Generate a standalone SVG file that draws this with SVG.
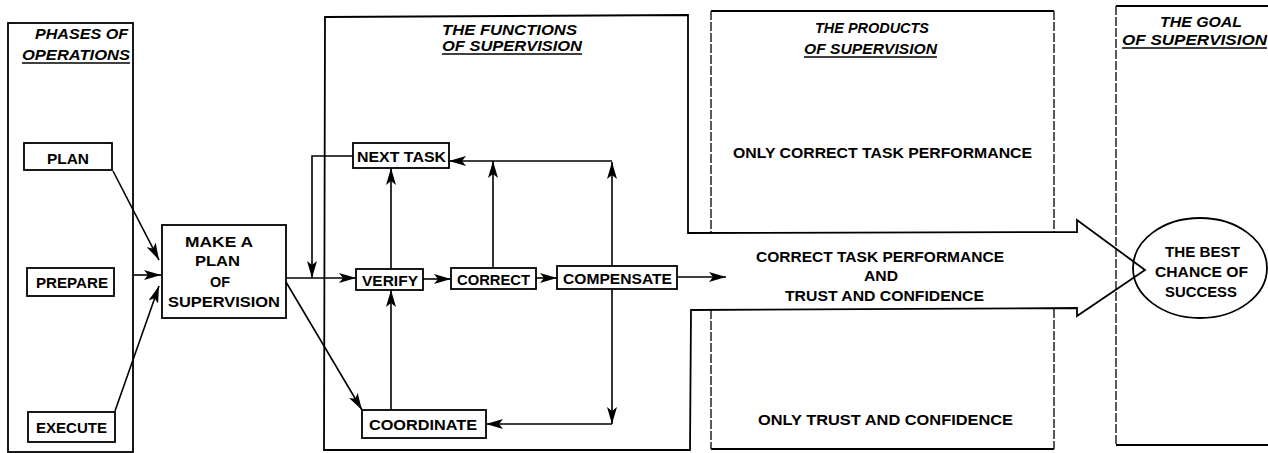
<svg xmlns="http://www.w3.org/2000/svg" width="1268" height="453" viewBox="0 0 1268 453">
<defs>
<style>
.bx{fill:#fff;stroke:#000;stroke-width:1.8}
.pn{fill:none;stroke:#000;stroke-width:1.8}
.ds{fill:none;stroke:#000;stroke-width:1.3;stroke-dasharray:9 2}
.t{font-family:"Liberation Sans",Arial,sans-serif;font-weight:bold;font-size:15px;fill:#000}
.h{font-family:"Liberation Sans",Arial,sans-serif;font-weight:bold;font-style:italic;font-size:14px;fill:#000}
.c{fill:none;stroke:#000;stroke-width:1.6}
.a{fill:none;stroke:#000;stroke-width:1.6;marker-end:url(#ah)}
</style>
<marker id="ah" viewBox="0 0 17 10" refX="17" refY="5" markerWidth="17" markerHeight="10" markerUnits="userSpaceOnUse" orient="auto">
<path d="M0,0 L17,5 L0,10 L4,5 Z" fill="#000"/>
</marker>
</defs>
<rect width="1268" height="453" fill="#fff"/>

<g id="panel-phases">
<rect class="pn" x="8" y="23" width="125" height="429"/>
<text class="h" x="35" y="39" textLength="93" lengthAdjust="spacingAndGlyphs">PHASES OF</text>
<text class="h" x="22" y="60" textLength="108" lengthAdjust="spacingAndGlyphs">OPERATIONS</text>
<line class="c" x1="22" y1="63" x2="130" y2="63"/>
</g>

<g id="panel-functions">
<path class="pn" d="M325,17 L688,15 L688,233 L1077,232 L1077,220 L1145,270 L1077,316 L1077,308 L691,310 L690,450 L324,450 Z"/>
<text class="h" x="442" y="35" textLength="135" lengthAdjust="spacingAndGlyphs">THE FUNCTIONS</text>
<text class="h" x="442" y="51" textLength="140" lengthAdjust="spacingAndGlyphs">OF SUPERVISION</text>
<line class="c" x1="442" y1="54" x2="582" y2="54"/>
</g>

<g id="panel-products">
<path class="pn" d="M711,11 L1054,11"/>
<path class="ds" d="M711,11 L711,232 M1054,11 L1054,232"/>
<path class="ds" d="M711,310 L711,449 M1054,309 L1054,449"/>
<path class="pn" d="M711,449 L1054,449"/>
<text class="h" x="815" y="33" textLength="114" lengthAdjust="spacingAndGlyphs">THE PRODUCTS</text>
<text class="h" x="804" y="54" textLength="133" lengthAdjust="spacingAndGlyphs">OF SUPERVISION</text>
<line class="c" x1="804" y1="57" x2="937" y2="57"/>
</g>

<g id="panel-goal">
<path class="pn" d="M1116,6 L1268,6 M1116,445 L1268,445"/>
<path class="ds" d="M1116,6 L1116,445"/>
<text class="h" x="1160" y="27" textLength="82" lengthAdjust="spacingAndGlyphs">THE GOAL</text>
<text class="h" x="1122" y="45" textLength="145" lengthAdjust="spacingAndGlyphs">OF SUPERVISION</text>
<line class="c" x1="1122" y1="48" x2="1267" y2="48"/>
</g>

<g id="connectors">
<line class="a" x1="113" y1="171" x2="159" y2="260"/>
<line class="a" x1="134" y1="275" x2="161" y2="275"/>
<line class="a" x1="115" y1="411" x2="159" y2="286"/>
<line class="a" x1="286" y1="278" x2="356" y2="278"/>
<path class="a" d="M353,156 L312,156 L312,278"/>
<line class="a" x1="286" y1="282" x2="362" y2="410"/>
<line class="a" x1="391" y1="269" x2="391" y2="168"/>
<line class="a" x1="391" y1="410" x2="391" y2="290"/>
<line class="a" x1="423" y1="279" x2="451" y2="279"/>
<line class="a" x1="536" y1="278" x2="557" y2="278"/>
<line class="a" x1="493" y1="268" x2="493" y2="161"/>
<line class="a" x1="612" y1="266" x2="612" y2="162"/>
<path class="a" d="M612,161 L449,161"/>
<line class="a" x1="612" y1="289" x2="612" y2="424"/>
<path class="a" d="M612,424 L486,424"/>
<line class="a" x1="677" y1="277" x2="726" y2="277"/>
</g>

<g id="node-plan">
<rect class="bx" x="24" y="143" width="88" height="27"/>
<text class="t" x="47" y="164" textLength="42" lengthAdjust="spacingAndGlyphs">PLAN</text>
</g>
<g id="node-prepare">
<rect class="bx" x="27" y="268" width="87" height="28"/>
<text class="t" x="36" y="288" textLength="72" lengthAdjust="spacingAndGlyphs">PREPARE</text>
</g>
<g id="node-execute">
<rect class="bx" x="28" y="412" width="87" height="30"/>
<text class="t" x="36" y="433" textLength="71" lengthAdjust="spacingAndGlyphs">EXECUTE</text>
</g>
<g id="node-make-plan">
<rect class="bx" x="162" y="225" width="124" height="93"/>
<text class="t" x="185" y="247" textLength="68" lengthAdjust="spacingAndGlyphs">MAKE A</text>
<text class="t" x="195" y="266" textLength="45" lengthAdjust="spacingAndGlyphs">PLAN</text>
<text class="t" x="210" y="287" textLength="20" lengthAdjust="spacingAndGlyphs">OF</text>
<text class="t" x="168" y="307" textLength="112" lengthAdjust="spacingAndGlyphs">SUPERVISION</text>
</g>
<g id="node-next-task">
<rect class="bx" x="353" y="143" width="96" height="25"/>
<text class="t" x="357" y="162" textLength="89" lengthAdjust="spacingAndGlyphs">NEXT TASK</text>
</g>
<g id="node-verify">
<rect class="bx" x="356" y="269" width="67" height="21"/>
<text class="t" x="362" y="286" textLength="56" lengthAdjust="spacingAndGlyphs">VERIFY</text>
</g>
<g id="node-correct">
<rect class="bx" x="451" y="268" width="85" height="21"/>
<text class="t" x="457" y="285" textLength="73" lengthAdjust="spacingAndGlyphs">CORRECT</text>
</g>
<g id="node-compensate">
<rect class="bx" x="557" y="266" width="120" height="23"/>
<text class="t" x="563" y="284" textLength="109" lengthAdjust="spacingAndGlyphs">COMPENSATE</text>
</g>
<g id="node-coordinate">
<rect class="bx" x="362" y="410" width="124" height="28"/>
<text class="t" x="369" y="430" textLength="108" lengthAdjust="spacingAndGlyphs">COORDINATE</text>
</g>

<g id="product-correct">
<text class="t" x="733" y="158" textLength="299" lengthAdjust="spacingAndGlyphs">ONLY CORRECT TASK PERFORMANCE</text>
</g>
<g id="product-both">
<text class="t" x="756" y="262" textLength="248" lengthAdjust="spacingAndGlyphs">CORRECT TASK PERFORMANCE</text>
<text class="t" x="864" y="281" textLength="34" lengthAdjust="spacingAndGlyphs">AND</text>
<text class="t" x="785" y="301" textLength="199" lengthAdjust="spacingAndGlyphs">TRUST AND CONFIDENCE</text>
</g>
<g id="product-trust">
<text class="t" x="758" y="425" textLength="255" lengthAdjust="spacingAndGlyphs">ONLY TRUST AND CONFIDENCE</text>
</g>

<g id="node-goal">
<ellipse class="pn" cx="1200" cy="268" rx="67" ry="50"/>
<text class="t" x="1165" y="257" textLength="75" lengthAdjust="spacingAndGlyphs">THE BEST</text>
<text class="t" x="1155" y="277" textLength="93" lengthAdjust="spacingAndGlyphs">CHANCE OF</text>
<text class="t" x="1165" y="297" textLength="72" lengthAdjust="spacingAndGlyphs">SUCCESS</text>
</g>
</svg>
